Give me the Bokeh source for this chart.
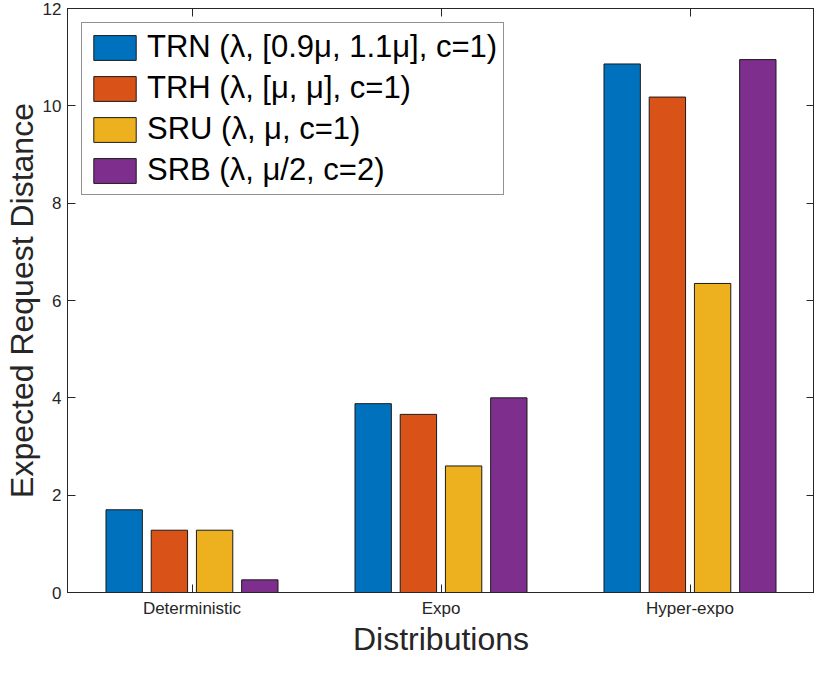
import numpy as np
from bokeh.plotting import figure
from bokeh.models import (ColumnDataSource, FixedTicker, LinearAxis, Legend, LegendItem,
                          Range1d, CustomLabelingPolicy)
from bokeh.transform import dodge
from bokeh.embed import file_html
from bokeh.resources import INLINE

# ---- data ----
categories = ["Deterministic", "Expo", "Hyper-expo"]
series_names = ["TRN (λ, [0.9μ, 1.1μ], c=1)", "TRH (λ, [μ, μ], c=1)",
                "SRU (λ, μ, c=1)", "SRB (λ, μ/2, c=2)"]
trn = [1.70, 3.88, 10.86]
trh = [1.28, 3.66, 10.18]
sru = [1.28, 2.60, 6.35]
srb = [0.26, 4.00, 10.95]
y_ticks = [0, 2, 4, 6, 8, 10, 12]
x_label = "Distributions"
y_label = "Expected Request Distance"

colors = ["#0072BD", "#D95319", "#EDB120", "#7E2F8E"]
offsets = [-0.2724, -0.0908, 0.0908, 0.2724]
bar_w = 0.146
FONT = "Liberation Sans"
INK = "#262626"

src = ColumnDataSource(dict(x=list(range(1, len(categories) + 1)),
                            trn=trn, trh=trh, sru=sru, srb=srb))

p = figure(width=814, height=659, output_backend="svg", toolbar_location=None,
           x_range=Range1d(0.5, 3.5), y_range=Range1d(0, 12),
           min_border_left=0, min_border_right=0, min_border_top=8, min_border_bottom=0)
p.xgrid.visible = False
p.ygrid.visible = False
p.outline_line_color = INK
p.outline_line_width = 1

renderers = []
for key, col, off in zip(["trn", "trh", "sru", "srb"], colors, offsets):
    r = p.vbar(x=dodge("x", off), top=key, width=bar_w, bottom=0, source=src,
               fill_color=col, line_color="#1a1a1a", line_width=1)
    renderers.append(r)

hide_all = CustomLabelingPolicy(code="""
const all = [...indices]
for (const i of all) indices.unset(i)
""")

def style_axis(ax, labels=True):
    ax.axis_line_color = INK
    ax.major_tick_line_color = INK
    ax.major_tick_in = 8
    ax.major_tick_out = 0
    ax.minor_tick_line_color = None
    ax.major_label_text_font = FONT
    ax.major_label_text_color = INK
    ax.major_label_text_line_height = 1.0
    if labels:
        ax.major_label_text_font_size = "17px"
    else:
        ax.major_label_text_font_size = "0px"
        ax.major_label_standoff = 0
        ax.major_label_policy = hide_all

p.xaxis.ticker = FixedTicker(ticks=list(range(1, len(categories) + 1)))
p.xaxis.major_label_overrides = {i + 1: c for i, c in enumerate(categories)}
p.yaxis.ticker = FixedTicker(ticks=y_ticks)
style_axis(p.xaxis[0])
style_axis(p.yaxis[0])
p.xaxis.major_label_standoff = 6
p.yaxis.major_label_standoff = 6

p.xaxis.axis_label = x_label
p.yaxis.axis_label = y_label
for ax in (p.xaxis[0], p.yaxis[0]):
    ax.axis_label_text_font = FONT
    ax.axis_label_text_font_size = "32px"
    ax.axis_label_text_font_style = "normal"
    ax.axis_label_text_color = INK
    ax.axis_label_text_line_height = 1.0
p.xaxis.axis_label_standoff = 0
p.yaxis.axis_label_standoff = 0

top_ax = LinearAxis(ticker=FixedTicker(ticks=list(range(1, len(categories) + 1))))
style_axis(top_ax, labels=False)
p.add_layout(top_ax, "above")
right_ax = LinearAxis(ticker=FixedTicker(ticks=y_ticks))
style_axis(right_ax, labels=False)
p.add_layout(right_ax, "right")

legend = Legend(items=[LegendItem(label=n, renderers=[r]) for n, r in zip(series_names, renderers)],
                location="top_left")
legend.label_text_font = FONT
legend.label_text_font_size = "31px"
legend.label_text_color = "#000000"
legend.glyph_width = 53
legend.glyph_height = 31
legend.label_standoff = 6
legend.spacing = 5
legend.padding = 6
legend.margin = 14
legend.border_line_color = INK
legend.border_line_width = 1
legend.background_fill_alpha = 1
p.add_layout(legend)

open("out.html", "w").write(file_html(p, INLINE))
